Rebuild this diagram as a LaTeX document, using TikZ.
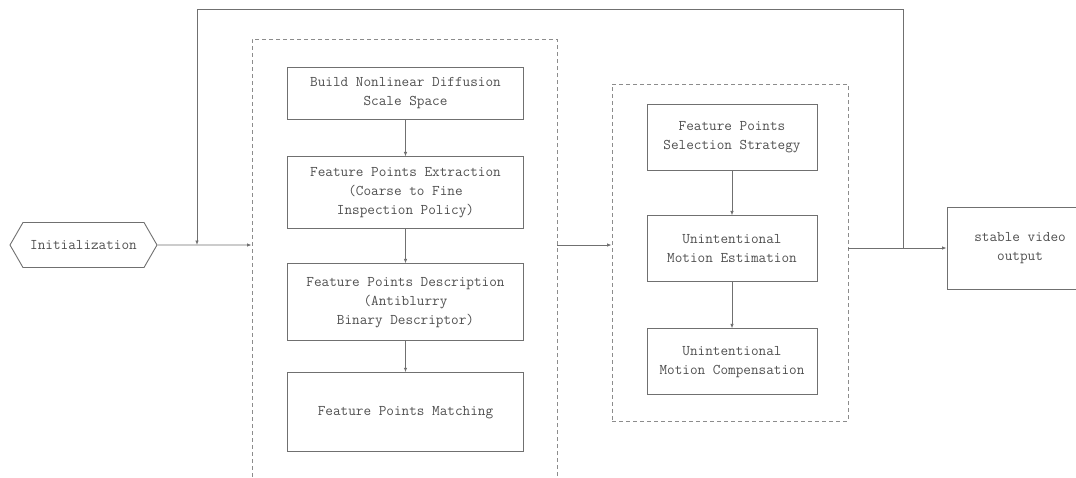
\documentclass[tikz,border=0pt]{standalone}
\usetikzlibrary{arrows.meta,positioning,shapes.symbols,calc}
\definecolor{vsline}{HTML}{707070}
\definecolor{vstext}{HTML}{505050}
\definecolor{vsdash}{HTML}{8C8C8C}
\tikzset{
  blk/.style={draw=vsline,line width=0.9pt,align=center,inner sep=2pt,
              font=\ttfamily\fontsize{14.8}{19}\selectfont,text=vstext},
  lblk/.style={blk,minimum width=236pt},
  rblk/.style={blk,minimum width=170pt,minimum height=66pt},
  frame/.style={draw=vsdash,line width=0.9pt,dash pattern=on 4pt off 3pt},
  hexa/.style={blk,signal,signal to=east and west,signal pointer angle=120,
               minimum width=147pt,minimum height=45pt},
  arw/.style={-{Latex[length=4.5pt,width=3.5pt]},draw=vsline,line width=0.8pt},
}
\begin{document}
\begin{tikzpicture}[x=1pt,y=-1pt]
  \clip (0,0) rectangle (1076,477);
  \fill[white] (0,0) rectangle (1076,477);
  % dashed groups
  \node[frame,minimum width=305pt,minimum height=461pt] (lframe) at (404.5,269.5) {};
  \node[frame,minimum width=236pt,minimum height=337pt] (rframe) at (730,252.5) {};
  % detection / description chain
  \node[lblk,minimum height=52pt] (build) at (405.5,93)
    {Build Nonlinear Diffusion\\Scale Space};
  \node[lblk,minimum height=72pt,below=37pt of build] (extract)
    {Feature Points Extraction\\(Coarse to Fine\\Inspection Policy)};
  \node[lblk,minimum height=77pt,below=34pt of extract] (descr)
    {Feature Points Description\\(Antiblurry\\Binary Descriptor)};
  \node[lblk,minimum height=79pt,below=31pt of descr] (match)
    {Feature Points Matching};
  % motion chain
  \node[rblk] (select) at (732,137) {Feature Points\\Selection Strategy};
  \node[rblk,below=45pt of select] (estim) {Unintentional\\Motion Estimation};
  \node[rblk,below=46pt of estim] (comp) {Unintentional\\Motion Compensation};
  % input / output
  \node[hexa] (init) at (83.5,245) {Initialization};
  \node[blk,minimum width=146pt,minimum height=82pt] (out) at (1020,248)
    {stable video\\output};
  \coordinate (split) at (903,248);
  \coordinate (merge) at (197,245);
  \draw[arw] (build) -- (extract);
  \draw[arw] (extract) -- (descr);
  \draw[arw] (descr) -- (match);
  \draw[arw] (select) -- (estim);
  \draw[arw] (estim) -- (comp);
  \draw[arw] (init) -- (init -| lframe.west);
  \draw[arw] (lframe.east |- init) -- (rframe.west |- init);
  \draw[arw] (rframe.east |- out) -- (out);
  \draw[arw] (split) -- ++(0,-239) -| (merge);
\end{tikzpicture}
\end{document}
